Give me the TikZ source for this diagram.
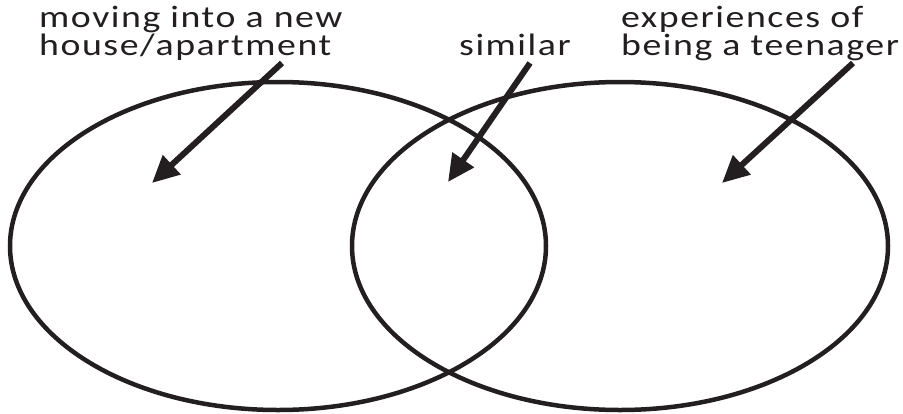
\documentclass[tikz,border=0pt]{standalone}
\usepackage{fontspec}
\setmainfont{Carlito}[FakeStretch=1.22,LetterSpace=5]
\usetikzlibrary{arrows.meta,shapes.geometric}
\definecolor{ink}{HTML}{231F20}
\begin{document}
\begin{tikzpicture}[x=1pt,y=-1pt,
  ring/.style={draw=ink, line width=4.5pt},
  pointer/.style={draw=ink, line width=6pt, -{Triangle[length=27pt,width=25pt]}},
  lab/.style={font=\fontsize{31}{28}\selectfont, align=left, inner sep=0pt, text=ink}]
\useasboundingbox (0,0) rectangle (903,413);
\node[ring, ellipse, minimum width=536pt, minimum height=328pt, inner sep=0pt] (L) at (278,246) {};
\node[ring, ellipse, minimum width=536pt, minimum height=328pt, inner sep=0pt] (R) at (620,246) {};
\node[lab, anchor=base west] (tl) at (39,55) {moving into a new\\house/apartment};
\node[lab, anchor=base west] (tm) at (459,55) {similar};
\node[lab, anchor=base west] (tr) at (621,55) {experiences of\\being a teenager};
\coordinate (a1s) at (282,63); \coordinate (a1e) at (152,183);
\coordinate (a2s) at (530,63); \coordinate (a2e) at (448,182);
\coordinate (a3s) at (853,63); \coordinate (a3e) at (722,183);
\draw[pointer] (a1s) -- (a1e);
\draw[pointer] (a2s) -- (a2e);
\draw[pointer] (a3s) -- (a3e);
\end{tikzpicture}
\end{document}
